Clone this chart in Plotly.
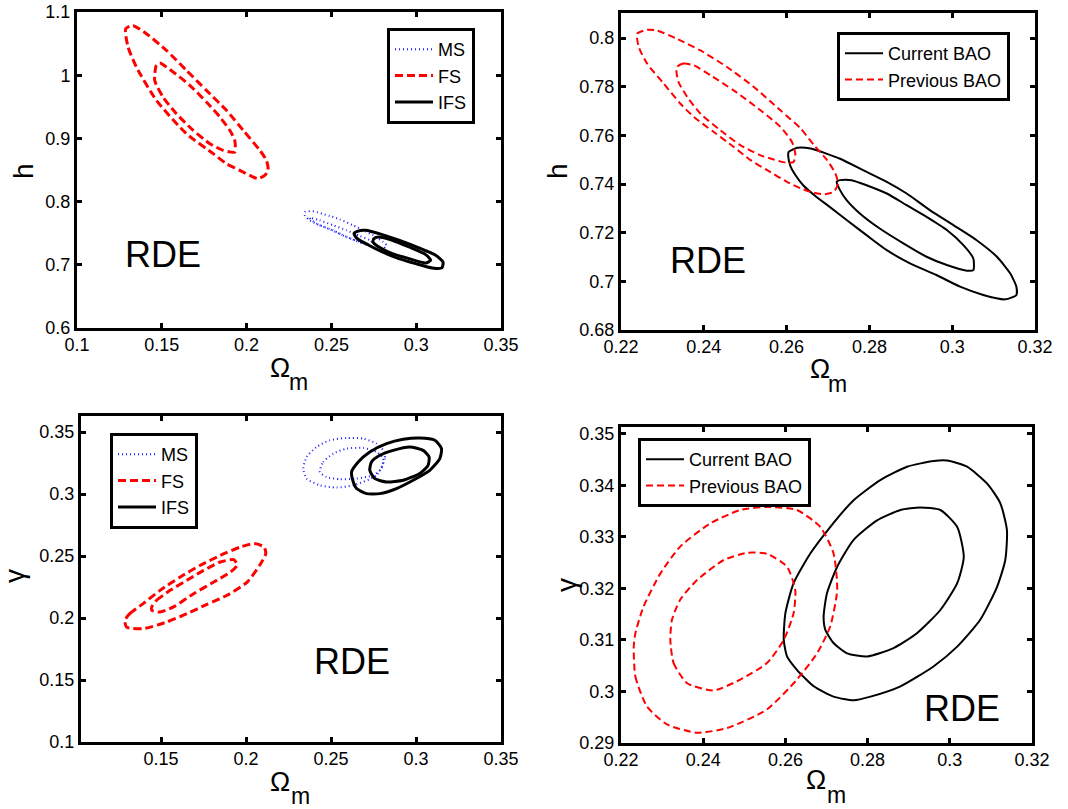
import plotly.graph_objects as go

# ---------------- panel 1: h vs Omega_m (MS / FS / IFS) ----------------
p1_ms_out_om = [0.2343, 0.2392, 0.2490, 0.2549, 0.2628, 0.2687, 0.2746, 0.2805, 0.2825,
                0.2805, 0.2746, 0.2667, 0.2589, 0.2510, 0.2431, 0.2372, 0.2343]
p1_ms_out_h = [0.7836, 0.7847, 0.7772, 0.7720, 0.7625, 0.7546, 0.7467, 0.7361, 0.7309,
               0.7256, 0.7282, 0.7361, 0.7440, 0.7546, 0.7625, 0.7704, 0.7783]
p1_ms_in_om = [0.2372, 0.2431, 0.2510, 0.2589, 0.2667, 0.2736, 0.2717, 0.2638, 0.2559,
               0.2481, 0.2412]
p1_ms_in_h = [0.7741, 0.7704, 0.7625, 0.7546, 0.7456, 0.7372, 0.7319, 0.7388, 0.7478,
              0.7573, 0.7651]

p1_fs_out_om = [0.1287, 0.1330, 0.1409, 0.1527, 0.1645, 0.1763, 0.1881, 0.1980, 0.2078,
                0.2117, 0.2127, 0.2107, 0.2068, 0.2039, 0.1960, 0.1881, 0.1803, 0.1645,
                0.1468, 0.1350, 0.1301]
p1_fs_out_h = [1.0736, 1.0784, 1.0657, 1.0393, 1.0077, 0.9760, 0.9444, 0.9128, 0.8811,
               0.8653, 0.8495, 0.8416, 0.8363, 0.8389, 0.8495, 0.8600, 0.8759, 0.9075,
               0.9602, 1.0130, 1.0446]
p1_fs_in_om = [0.1468, 0.1488, 0.1567, 0.1665, 0.1763, 0.1842, 0.1901, 0.1930, 0.1930,
               0.1862, 0.1783, 0.1685, 0.1586, 0.1507, 0.1458]
p1_fs_in_h = [1.0156, 1.0193, 1.0051, 0.9840, 0.9576, 0.9339, 0.9128, 0.8970, 0.8785,
              0.8811, 0.8917, 0.9128, 0.9391, 0.9655, 0.9919]

p1_ifs_out_om = [0.2633, 0.2653, 0.2702, 0.2800, 0.2898, 0.3016, 0.3115, 0.3158, 0.3151,
                 0.3095, 0.2997, 0.2898, 0.2800, 0.2721, 0.2653]
p1_ifs_out_h = [0.7494, 0.7530, 0.7546, 0.7478, 0.7388, 0.7266, 0.7151, 0.7044, 0.6950,
                0.6950, 0.7019, 0.7098, 0.7203, 0.7309, 0.7414]
p1_ifs_in_om = [0.2751, 0.2780, 0.2859, 0.2957, 0.3056, 0.3085, 0.3056, 0.2957, 0.2859,
                0.2780, 0.2745]
p1_ifs_in_h = [0.7414, 0.7440, 0.7388, 0.7282, 0.7161, 0.7072, 0.7029, 0.7098, 0.7177,
               0.7282, 0.7361]

# ---------------- panel 2: h vs Omega_m (current / previous BAO) ----------------
p2_cur_out_om = [0.2604, 0.2605, 0.2626, 0.2658, 0.2729, 0.2785, 0.2842, 0.2890, 0.2946,
                 0.3003, 0.3059, 0.3108, 0.3140, 0.3155, 0.3155, 0.3128, 0.3075, 0.3019,
                 0.2962, 0.2898, 0.2842, 0.2793, 0.2745, 0.2704, 0.2670, 0.2640, 0.2620,
                 0.2609]
p2_cur_out_h = [0.7512, 0.7532, 0.7549, 0.7546, 0.7504, 0.7457, 0.7409, 0.7361, 0.7293,
                0.7231, 0.7169, 0.7101, 0.7033, 0.6978, 0.6944, 0.6926, 0.6944, 0.6978,
                0.7026, 0.7074, 0.7128, 0.7190, 0.7252, 0.7306, 0.7350, 0.7395, 0.7440,
                0.7475]
p2_cur_in_om = [0.2721, 0.2729, 0.2757, 0.2793, 0.2842, 0.2890, 0.2938, 0.2987, 0.3027,
                0.3051, 0.3051, 0.3035, 0.2987, 0.2938, 0.2882, 0.2825, 0.2777, 0.2745,
                0.2729]
p2_cur_in_h = [0.7409, 0.7416, 0.7416, 0.7395, 0.7361, 0.7313, 0.7265, 0.7211, 0.7149,
               0.7094, 0.7046, 0.7044, 0.7067, 0.7101, 0.7156, 0.7217, 0.7279, 0.7334,
               0.7375]

p2_prev_out_om = [0.2239, 0.2263, 0.2287, 0.2335, 0.2392, 0.2456, 0.2521, 0.2585, 0.2634,
                  0.2666, 0.2698, 0.2718, 0.2724, 0.2714, 0.2690, 0.2666, 0.2634, 0.2601,
                  0.2553, 0.2513, 0.2472, 0.2424, 0.2376, 0.2343, 0.2303, 0.2263, 0.2243]
p2_prev_out_h = [0.8018, 0.8034, 0.8031, 0.7997, 0.7949, 0.7881, 0.7799, 0.7703, 0.7628,
                 0.7560, 0.7498, 0.7443, 0.7402, 0.7368, 0.7358, 0.7364, 0.7382, 0.7409,
                 0.7457, 0.7498, 0.7553, 0.7614, 0.7676, 0.7731, 0.7813, 0.7895, 0.7963]
p2_prev_in_om = [0.2335, 0.2351, 0.2376, 0.2416, 0.2472, 0.2537, 0.2585, 0.2613, 0.2621,
                 0.2617, 0.2597, 0.2569, 0.2537, 0.2488, 0.2440, 0.2392, 0.2360, 0.2339,
                 0.2334]
p2_prev_in_h = [0.7881, 0.7895, 0.7888, 0.7847, 0.7785, 0.7703, 0.7635, 0.7573, 0.7525,
                0.7491, 0.7488, 0.7501, 0.7518, 0.7560, 0.7621, 0.7689, 0.7758, 0.7819,
                0.7860]

# ---------------- panel 3: gamma vs Omega_m (MS / FS / IFS) ----------------
p3_ms_out_om = [0.2807, 0.2817, 0.2768, 0.2631, 0.2533, 0.2434, 0.2356, 0.2337, 0.2356,
                0.2415, 0.2493, 0.2591, 0.2690, 0.2768]
p3_ms_out_g = [0.3352, 0.3286, 0.3151, 0.3070, 0.3052, 0.3070, 0.3124, 0.3205, 0.3298,
               0.3379, 0.3433, 0.3452, 0.3447, 0.3406]
p3_ms_in_om = [0.2434, 0.2454, 0.2513, 0.2591, 0.2690, 0.2768, 0.2807, 0.2797, 0.2748,
               0.2650, 0.2552, 0.2474]
p3_ms_in_g = [0.3178, 0.3258, 0.3326, 0.3366, 0.3371, 0.3339, 0.3286, 0.3205, 0.3151,
              0.3124, 0.3119, 0.3137]

p3_fs_out_om = [0.1287, 0.1316, 0.1395, 0.1494, 0.1613, 0.1731, 0.1849, 0.1968, 0.2047,
                0.2106, 0.2116, 0.2086, 0.2007, 0.1889, 0.1770, 0.1652, 0.1534, 0.1395,
                0.1297]
p3_fs_out_g = [0.1981, 0.2035, 0.2116, 0.2223, 0.2331, 0.2425, 0.2505, 0.2573, 0.2600,
               0.2573, 0.2519, 0.2438, 0.2290, 0.2183, 0.2110, 0.2035, 0.1968, 0.1914,
               0.1927]
p3_fs_in_om = [0.1445, 0.1474, 0.1553, 0.1652, 0.1751, 0.1849, 0.1928, 0.1948, 0.1909,
               0.1810, 0.1692, 0.1573, 0.1494, 0.1445]
p3_fs_in_g = [0.2089, 0.2143, 0.2223, 0.2304, 0.2384, 0.2452, 0.2470, 0.2425, 0.2371,
              0.2290, 0.2196, 0.2089, 0.2048, 0.2062]

p3_ifs_out_om = [0.2631, 0.2621, 0.2660, 0.2728, 0.2827, 0.2925, 0.3022, 0.3111, 0.3150,
                 0.3140, 0.3081, 0.2983, 0.2885, 0.2787, 0.2709, 0.2650]
p3_ifs_out_g = [0.3097, 0.3178, 0.3258, 0.3339, 0.3406, 0.3441, 0.3452, 0.3433, 0.3366,
                0.3286, 0.3191, 0.3111, 0.3044, 0.3003, 0.3003, 0.3044]
p3_ifs_in_om = [0.2728, 0.2738, 0.2787, 0.2866, 0.2964, 0.3042, 0.3077, 0.3071, 0.3022,
                0.2925, 0.2827, 0.2758]
p3_ifs_in_g = [0.3191, 0.3258, 0.3312, 0.3352, 0.3379, 0.3352, 0.3298, 0.3231, 0.3165,
               0.3111, 0.3097, 0.3124]

# ---------------- panel 4: gamma vs Omega_m (current / previous BAO) ----------------
p4_cur_out_om = [0.2596, 0.2600, 0.2620, 0.2661, 0.2709, 0.2766, 0.2831, 0.2896, 0.2961,
                 0.2993, 0.3042, 0.3091, 0.3123, 0.3139, 0.3135, 0.3115, 0.3074, 0.3018,
                 0.2961, 0.2880, 0.2807, 0.2766, 0.2717, 0.2669, 0.2628, 0.2604]
p4_cur_out_g = [0.3100, 0.3152, 0.3210, 0.3268, 0.3319, 0.3371, 0.3410, 0.3436, 0.3447,
                0.3448, 0.3436, 0.3403, 0.3365, 0.3313, 0.3255, 0.3203, 0.3139, 0.3087,
                0.3049, 0.3010, 0.2990, 0.2983, 0.2990, 0.3010, 0.3042, 0.3068]
p4_cur_in_om = [0.2693, 0.2701, 0.2726, 0.2766, 0.2823, 0.2880, 0.2928, 0.2977, 0.3018,
                0.3034, 0.3018, 0.2977, 0.2920, 0.2863, 0.2799, 0.2750, 0.2717, 0.2697]
p4_cur_in_g = [0.3145, 0.3190, 0.3242, 0.3294, 0.3332, 0.3352, 0.3357, 0.3352, 0.3319,
               0.3261, 0.3210, 0.3158, 0.3113, 0.3084, 0.3068, 0.3074, 0.3094, 0.3120]

p4_prev_out_om = [0.2231, 0.2235, 0.2263, 0.2312, 0.2385, 0.2458, 0.2555, 0.2628, 0.2677,
                  0.2709, 0.2726, 0.2717, 0.2685, 0.2628, 0.2555, 0.2490, 0.2417, 0.2344,
                  0.2296, 0.2255, 0.2235]
p4_prev_out_g = [0.3087, 0.3029, 0.2971, 0.2936, 0.2920, 0.2929, 0.2965, 0.3023, 0.3074,
                 0.3126, 0.3197, 0.3268, 0.3319, 0.3352, 0.3358, 0.3352, 0.3326, 0.3281,
                 0.3229, 0.3165, 0.3113]
p4_prev_in_om = [0.2320, 0.2328, 0.2361, 0.2426, 0.2490, 0.2555, 0.2596, 0.2620, 0.2624,
                 0.2604, 0.2555, 0.2507, 0.2450, 0.2385, 0.2344, 0.2324]
p4_prev_in_g = [0.3100, 0.3055, 0.3016, 0.3002, 0.3023, 0.3055, 0.3100, 0.3152, 0.3197,
                0.3242, 0.3267, 0.3269, 0.3255, 0.3216, 0.3178, 0.3139]

# ---------------- axis ranges and tick labels ----------------
p1_xticks = [0.1, 0.15, 0.2, 0.25, 0.3, 0.35]
p1_xlabels = ["0.1", "0.15", "0.2", "0.25", "0.3", "0.35"]
p1_yticks = [0.6, 0.7, 0.8, 0.9, 1.0, 1.1]
p1_ylabels = ["0.6", "0.7", "0.8", "0.9", "1", "1.1"]
p2_xticks = [0.22, 0.24, 0.26, 0.28, 0.30, 0.32]
p2_xlabels = ["0.22", "0.24", "0.26", "0.28", "0.3", "0.32"]
p2_yticks = [0.68, 0.70, 0.72, 0.74, 0.76, 0.78, 0.80]
p2_ylabels = ["0.68", "0.7", "0.72", "0.74", "0.76", "0.78", "0.8"]
p3_xticks = [0.15, 0.2, 0.25, 0.3, 0.35]
p3_xlabels = ["0.15", "0.2", "0.25", "0.3", "0.35"]
p3_yticks = [0.1, 0.15, 0.2, 0.25, 0.3, 0.35]
p3_ylabels = ["0.1", "0.15", "0.2", "0.25", "0.3", "0.35"]
p4_xticks = [0.22, 0.24, 0.26, 0.28, 0.30, 0.32]
p4_xlabels = ["0.22", "0.24", "0.26", "0.28", "0.3", "0.32"]
p4_yticks = [0.29, 0.30, 0.31, 0.32, 0.33, 0.34, 0.35]
p4_ylabels = ["0.29", "0.3", "0.31", "0.32", "0.33", "0.34", "0.35"]

FONT = "Liberation Sans, Arial, Helvetica, sans-serif"
RED = "rgb(255,0,0)"
BLUE = "rgb(30,30,255)"
BLACK = "rgb(0,0,0)"


def rings(ox, oy, ix, iy):
    """Join the outer and inner closed contours into one broken polyline."""
    xs = ox + ox[:1] + [None] + ix + ix[:1]
    ys = oy + oy[:1] + [None] + iy + iy[:1]
    return xs, ys


fig = go.Figure()


def add(ox, oy, ix, iy, name, color, width, dash, xa, ya, legend):
    xs, ys = rings(ox, oy, ix, iy)
    fig.add_trace(go.Scatter(
        x=xs, y=ys, mode="lines", name=name,
        line=dict(color=color, width=width, dash=dash, shape="spline", smoothing=0.6),
        xaxis=xa, yaxis=ya, legend=legend, connectgaps=False, hoverinfo="skip"))


# panel 1
add(p1_ms_out_om, p1_ms_out_h, p1_ms_in_om, p1_ms_in_h, "MS", BLUE, 2, "1px,3px", "x", "y", "legend")
add(p1_fs_out_om, p1_fs_out_h, p1_fs_in_om, p1_fs_in_h, "FS", RED, 3, "8px,4px", "x", "y", "legend")
add(p1_ifs_out_om, p1_ifs_out_h, p1_ifs_in_om, p1_ifs_in_h, "IFS", BLACK, 3, "solid", "x", "y", "legend")
# panel 2
add(p2_cur_out_om, p2_cur_out_h, p2_cur_in_om, p2_cur_in_h, "Current BAO", BLACK, 2, "solid", "x2", "y2", "legend2")
add(p2_prev_out_om, p2_prev_out_h, p2_prev_in_om, p2_prev_in_h, "Previous BAO", RED, 2, "7px,4px", "x2", "y2", "legend2")
# panel 3
add(p3_ms_out_om, p3_ms_out_g, p3_ms_in_om, p3_ms_in_g, "MS", BLUE, 2, "1px,3px", "x3", "y3", "legend3")
add(p3_fs_out_om, p3_fs_out_g, p3_fs_in_om, p3_fs_in_g, "FS", RED, 3, "8px,4px", "x3", "y3", "legend3")
add(p3_ifs_out_om, p3_ifs_out_g, p3_ifs_in_om, p3_ifs_in_g, "IFS", BLACK, 3, "solid", "x3", "y3", "legend3")
# panel 4
add(p4_cur_out_om, p4_cur_out_g, p4_cur_in_om, p4_cur_in_g, "Current BAO", BLACK, 2, "solid", "x4", "y4", "legend4")
add(p4_prev_out_om, p4_prev_out_g, p4_prev_in_om, p4_prev_in_g, "Previous BAO", RED, 2, "7px,4px", "x4", "y4", "legend4")

W, H = 1068, 809


def px_dom_x(a, b):
    return [a / W, b / W]


def px_dom_y(top, bottom):
    return [1 - bottom / H, 1 - top / H]


def axis(dom, rng, tv, tt, anchor, standoff=0):
    return dict(domain=dom, range=rng, tickvals=tv, ticktext=tt, anchor=anchor,
                showline=True, linewidth=3, linecolor=BLACK, mirror="ticks",
                ticks="inside", ticklen=5, tickwidth=3, tickcolor=BLACK,
                showgrid=False, zeroline=False, automargin=False,
                ticklabelstandoff=standoff,
                tickfont=dict(family=FONT, size=18, color=BLACK))


def leg(xp, yp):
    return dict(x=xp / W, y=1 - yp / H, xanchor="left", yanchor="top",
                bgcolor="white", bordercolor=BLACK, borderwidth=3,
                font=dict(family=FONT, size=18, color=BLACK),
                tracegroupgap=0, itemwidth=38)


fig.update_layout(
    width=W, height=H, margin=dict(l=0, r=0, t=0, b=0, pad=0, autoexpand=False),
    paper_bgcolor="white", plot_bgcolor="white",
    font=dict(family=FONT, color=BLACK),
    xaxis=axis(px_dom_x(77, 501), [0.1, 0.35], p1_xticks, p1_xlabels, "y", -2),
    yaxis=axis(px_dom_y(12, 328), [0.6, 1.1], p1_yticks, p1_ylabels, "x"),
    xaxis2=axis(px_dom_x(621, 1035), [0.22, 0.32], p2_xticks, p2_xlabels, "y2", -2),
    yaxis2=axis(px_dom_y(13, 330), [0.68, 0.8103], p2_yticks, p2_ylabels, "x2"),
    xaxis3=axis(px_dom_x(81, 501), [0.1029, 0.35], p3_xticks, p3_xlabels, "y3", -2),
    yaxis3=axis(px_dom_y(416, 742), [0.1, 0.3629], p3_yticks, p3_ylabels, "x3"),
    xaxis4=axis(px_dom_x(621, 1032), [0.22, 0.32], p4_xticks, p4_xlabels, "y4", -2),
    yaxis4=axis(px_dom_y(427, 743), [0.29, 0.3513], p4_yticks, p4_ylabels, "x4"),
    legend=leg(387, 28),
    legend2=leg(837, 32),
    legend3=leg(110, 433),
    legend4=leg(638, 438),
)


def label(text, cx, cy, size, angle=0):
    fig.add_annotation(text=text, xref="paper", yref="paper", textangle=angle,
                       x=cx / W, y=1 - cy / H, xanchor="center", yanchor="middle",
                       showarrow=False, font=dict(family=FONT, size=size, color=BLACK))


# x-axis titles: Omega with a subscript m
for (ox, oy), (mx, my) in [((280, 368), (298, 382)), ((820, 369), (837, 384)),
                           ((280, 782), (300, 796)), ((816, 780), (836, 795))]:
    label("Ω", ox, oy, 27)
    label("m", mx, my, 23)

# y-axis titles
label("h", 23, 171, 28, -90)
label("h", 557, 171, 28, -90)
label("γ", 14, 576, 28, -90)
label("γ", 566, 585, 28, -90)

# model label inside each panel
for xr, yr, xv, yv in [("x", "y", 0.127, 0.717), ("x2", "y2", 0.2313, 0.7085),
                       ("x3", "y3", 0.2388, 0.1648), ("x4", "y4", 0.2932, 0.2967)]:
    fig.add_annotation(text="RDE", xref=xr, yref=yr, x=xv, y=yv,
                       xanchor="left", yanchor="middle", showarrow=False,
                       font=dict(family=FONT, size=36, color=BLACK))

fig.write_html("out.html")
